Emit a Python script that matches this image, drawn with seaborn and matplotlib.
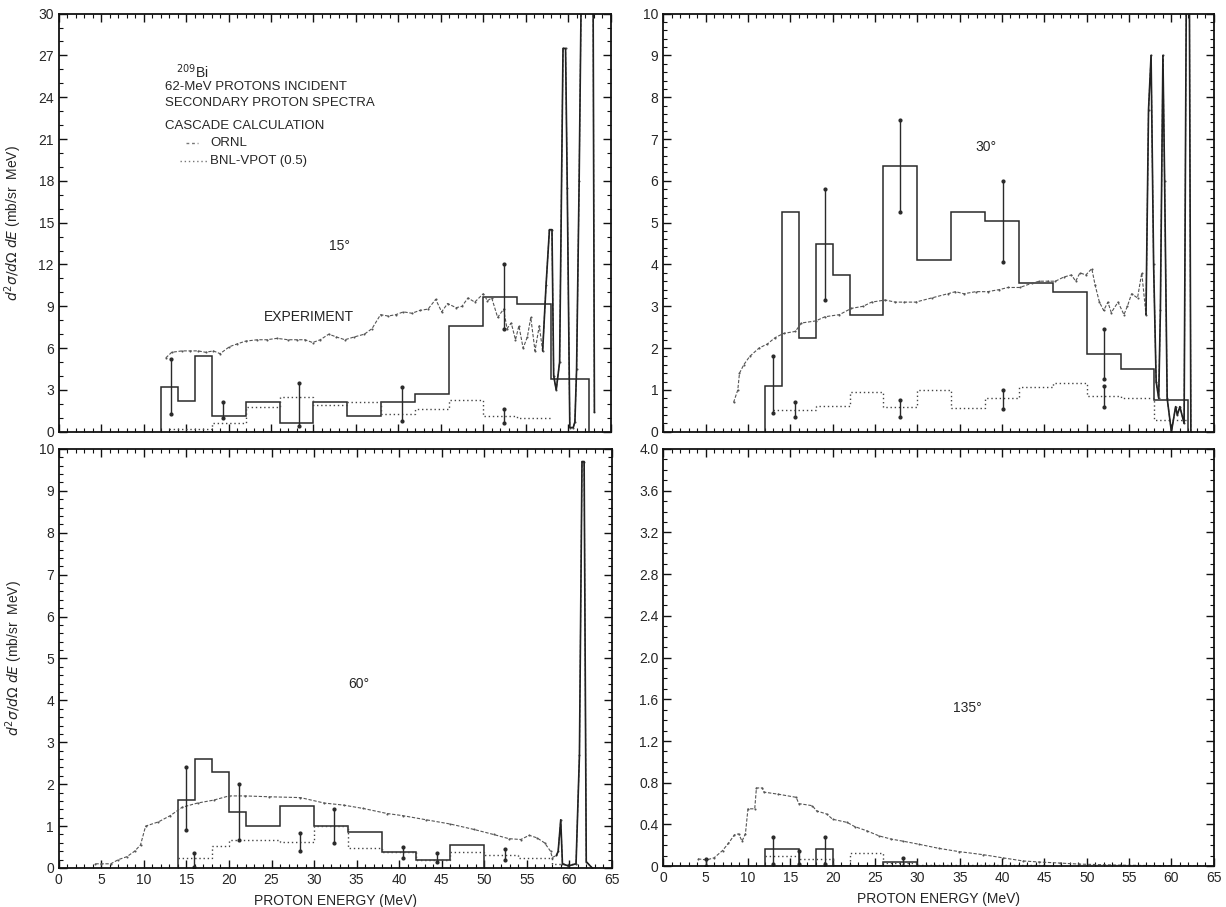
import matplotlib
matplotlib.use('Agg')
import matplotlib.pyplot as plt
import numpy as np
import pandas as pd
import seaborn as sns

from matplotlib.ticker import MultipleLocator, FuncFormatter

# ---- 15 degrees ----
exp15_e = [12.6, 13.3, 14.5, 15.5, 16.4, 17.3, 18.2, 19.0, 20.1, 21.0, 22.0, 23.4, 24.5, 25.7,
           27.0, 28.1, 29.0, 29.9, 30.8, 31.8, 32.7, 33.7, 34.8, 36.0, 36.9, 37.9, 38.8, 39.7,
           40.6, 41.6, 42.5, 43.5, 44.4, 45.1, 45.8, 46.8, 47.5, 48.2, 49.0, 50.0, 50.5, 51.0,
           51.7, 52.4, 52.8, 53.3, 53.8, 54.2, 54.7, 55.2, 55.6, 56.1, 56.6, 57.0, 57.4, 57.8,
           58.1, 58.3, 58.6, 59.0, 59.4, 59.7, 59.9, 60.2, 60.6, 60.8, 61.0, 61.3, 61.7, 62.9, 63.1]
exp15_y = [5.3, 5.7, 5.8, 5.8, 5.8, 5.7, 5.8, 5.6, 6.1, 6.3, 6.5, 6.6, 6.6, 6.7,
           6.6, 6.6, 6.6, 6.4, 6.6, 7.0, 6.8, 6.6, 6.8, 7.0, 7.4, 8.4, 8.3, 8.4,
           8.6, 8.5, 8.7, 8.8, 9.5, 8.6, 9.2, 8.9, 9.0, 9.6, 9.3, 9.9, 9.4, 9.6,
           8.2, 8.8, 7.4, 7.8, 6.6, 7.6, 6.0, 6.8, 8.2, 5.8, 7.6, 5.8, 10.5, 14.5,
           14.5, 4.0, 3.0, 5.0, 27.5, 27.5, 17.5, 0.3, 0.3, 0.7, 4.5, 18.0, 40.0, 40.0, 1.4]
ornl15_edges = [12, 14, 16, 18, 22, 26, 30, 34, 38, 42, 46, 50, 54, 58, 62.5]
ornl15_vals = [3.2, 2.2, 5.4, 1.1, 2.1, 0.6, 2.1, 1.1, 2.1, 2.7, 7.6, 9.7, 9.2, 3.8]
bnl15_edges = [13, 18, 22, 26, 30, 34, 38, 42, 46, 50, 54, 58]
bnl15_vals = [0.2, 0.6, 1.8, 2.5, 1.9, 2.1, 1.25, 1.65, 2.3, 1.1, 1.0]
err15_e = [13.2, 19.3, 28.3, 40.4, 52.5, 52.5]
err15_lo = [1.3, 1.0, 0.4, 0.75, 7.4, 0.6]
err15_hi = [5.2, 2.1, 3.5, 3.2, 12.0, 1.6]
elastic15 = 57.0

# ---- 30 degrees ----
exp30_e = [8.3, 8.8, 9.0, 9.5, 10.2, 11.3, 12.3, 13.2, 14.2, 15.6, 16.3, 18.0, 19.1, 20.8,
           22.2, 23.6, 24.6, 26.2, 27.4, 28.4, 29.8, 31.7, 33.6, 34.5, 35.5, 36.9, 38.3, 39.7,
           40.7, 42.1, 43.5, 44.4, 45.4, 46.3, 47.3, 48.2, 48.7, 49.2, 49.9, 50.6, 51.0, 51.5,
           52.0, 52.5, 52.9, 53.7, 54.4, 54.8, 55.3, 56.0, 56.5, 57.0, 57.3, 57.6, 57.9, 58.2,
           58.5, 58.7, 59.0, 59.2, 59.5, 60.0, 60.5, 60.7, 61.0, 61.5, 61.8, 62.1, 62.3]
exp30_y = [0.7, 1.0, 1.4, 1.6, 1.8, 2.0, 2.1, 2.25, 2.35, 2.4, 2.6, 2.65, 2.75, 2.8,
           2.95, 3.0, 3.1, 3.15, 3.1, 3.1, 3.1, 3.2, 3.3, 3.35, 3.3, 3.35, 3.35, 3.4,
           3.45, 3.45, 3.55, 3.6, 3.6, 3.6, 3.7, 3.75, 3.6, 3.8, 3.75, 3.9, 3.5, 3.1,
           2.9, 3.1, 2.85, 3.1, 2.8, 3.0, 3.3, 3.2, 3.8, 2.8, 7.7, 9.0, 4.0, 1.2,
           0.8, 2.9, 9.0, 6.0, 0.8, 0.0, 0.6, 0.4, 0.6, 0.2, 12.0, 12.0, 0.0]
ornl30_edges = [12, 14, 16, 18, 20, 22, 26, 30, 34, 38, 42, 46, 50, 54, 58, 62]
ornl30_vals = [1.1, 5.25, 2.25, 4.5, 3.75, 2.8, 6.35, 4.1, 5.25, 5.05, 3.55, 3.35, 1.85, 1.5, 0.75]
bnl30_edges = [13, 18, 22, 26, 30, 34, 38, 42, 46, 50, 54, 58, 62]
bnl30_vals = [0.52, 0.62, 0.95, 0.58, 1.0, 0.57, 0.8, 1.08, 1.16, 0.85, 0.8, 0.28]
err30_e = [13.0, 15.6, 19.1, 28.0, 28.0, 40.1, 40.1, 52.1, 52.1]
err30_lo = [0.45, 0.35, 3.15, 5.25, 0.35, 4.05, 0.55, 1.25, 0.6]
err30_hi = [1.8, 0.7, 5.8, 7.45, 0.75, 6.0, 1.0, 2.45, 1.1]
elastic30 = 57.0

# ---- 60 degrees ----
exp60_e = [4.3, 5.0, 6.1, 7.0, 8.0, 8.9, 9.6, 10.2, 11.7, 13.1, 14.5, 16.3, 18.2, 20.0,
           21.9, 24.7, 28.4, 31.2, 33.5, 35.8, 38.6, 40.4, 43.2, 46.0, 48.8, 51.1, 52.9, 54.3,
           55.3, 56.2, 57.1, 57.8, 58.0, 58.5, 58.7, 59.0, 59.2, 59.9, 60.8, 61.2, 61.5, 61.75,
           62.0, 62.7]
exp60_y = [0.1, 0.1, 0.1, 0.2, 0.27, 0.4, 0.55, 1.0, 1.1, 1.25, 1.45, 1.55, 1.62, 1.72,
           1.72, 1.7, 1.68, 1.55, 1.5, 1.42, 1.3, 1.25, 1.15, 1.05, 0.92, 0.8, 0.7, 0.68,
           0.78, 0.72, 0.6, 0.4, 0.25, 0.3, 0.4, 1.15, 0.1, 0.05, 0.1, 2.7, 9.7, 9.7,
           0.15, 0.0]
ornl60_edges = [14, 16, 18, 20, 22, 26, 30, 34, 38, 42, 46, 50]
ornl60_vals = [1.62, 2.6, 2.28, 1.33, 1.0, 1.47, 1.0, 0.87, 0.37, 0.2, 0.55]
bnl60_edges = [14, 18, 20, 26, 30, 34, 38, 42, 46, 50, 54, 58, 61]
bnl60_vals = [0.25, 0.52, 0.67, 0.61, 1.0, 0.48, 0.37, 0.2, 0.37, 0.3, 0.25, 0.1]
err60_e = [15.0, 15.9, 21.2, 28.3, 32.3, 40.4, 44.4, 52.4]
err60_lo = [0.9, 0.03, 0.67, 0.41, 0.6, 0.24, 0.15, 0.2]
err60_hi = [2.4, 0.36, 2.0, 0.83, 1.41, 0.5, 0.35, 0.45]
elastic60 = 58.5

# ---- 135 degrees ----
exp135_e = [4.1, 5.1, 6.0, 7.0, 7.7, 8.4, 8.9, 9.3, 9.7, 10.0, 10.8, 11.0, 11.7, 11.9,
            13.6, 15.7, 16.0, 17.6, 18.1, 19.3, 20.0, 21.7, 22.6, 24.0, 25.5, 26.9, 28.3, 30.2,
            32.6, 34.9, 37.8, 40.1, 42.5, 44.4, 46.8, 49.1, 53.9, 58.6, 64.8]
exp135_y = [0.07, 0.06, 0.08, 0.15, 0.22, 0.3, 0.31, 0.24, 0.31, 0.55, 0.55, 0.75, 0.75, 0.71,
            0.69, 0.66, 0.6, 0.58, 0.53, 0.5, 0.45, 0.42, 0.38, 0.34, 0.29, 0.26, 0.24, 0.21,
            0.17, 0.14, 0.11, 0.08, 0.05, 0.04, 0.03, 0.02, 0.01, 0.005, 0.0]
ornl135_edges = [12, 16, 18, 20, 26, 30]
ornl135_vals = [0.16, 0.0, 0.16, 0.0, 0.04]
bnl135_edges = [12, 16, 20, 22, 26, 30, 45]
bnl135_vals = [0.1, 0.07, 0.0, 0.13, 0.03, 0.01]
err135_e = [5.1, 13.0, 16.0, 19.1, 28.3]
err135_lo = [0.0, 0.02, 0.02, 0.02, 0.0]
err135_hi = [0.07, 0.28, 0.15, 0.28, 0.08]
elastic135 = 70.0

YLABEL = r'$d^2\sigma/d\Omega\;dE$ (mb/sr  MeV)'
XLABEL = 'PROTON ENERGY (MeV)'

sns.set_style('ticks')
plt.rcParams['font.family'] = ['Liberation Sans', 'DejaVu Sans']
plt.rcParams['mathtext.fontset'] = 'dejavusans'

figure = plt.figure(figsize=(12.26, 9.07), dpi=100)

panels = [
    dict(pos=[0.048, 0.524, 0.450, 0.461], ymax=30, major=3, minor=1, fmt='{:.0f}',
         exp=(exp15_e, exp15_y), ornl=(ornl15_edges, ornl15_vals), bnl=(bnl15_edges, bnl15_vals),
         err=(err15_e, err15_lo, err15_hi), elastic=elastic15,
         label='15°', lab_xy=(31.8, 13.3), bottom=False, left=True),
    dict(pos=[0.541, 0.524, 0.449, 0.461], ymax=10, major=1, minor=0.2, fmt='{:.0f}',
         exp=(exp30_e, exp30_y), ornl=(ornl30_edges, ornl30_vals), bnl=(bnl30_edges, bnl30_vals),
         err=(err30_e, err30_lo, err30_hi), elastic=elastic30,
         label='30°', lab_xy=(36.9, 6.8), bottom=False, left=False),
    dict(pos=[0.048, 0.043, 0.451, 0.462], ymax=10, major=1, minor=0.2, fmt='{:.0f}',
         exp=(exp60_e, exp60_y), ornl=(ornl60_edges, ornl60_vals), bnl=(bnl60_edges, bnl60_vals),
         err=(err60_e, err60_lo, err60_hi), elastic=elastic60,
         label='60°', lab_xy=(34.0, 4.4), bottom=True, left=True),
    dict(pos=[0.541, 0.045, 0.449, 0.460], ymax=4, major=0.4, minor=0.1, fmt='{:.1f}',
         exp=(exp135_e, exp135_y), ornl=(ornl135_edges, ornl135_vals), bnl=(bnl135_edges, bnl135_vals),
         err=(err135_e, err135_lo, err135_hi), elastic=elastic135,
         label='135°', lab_xy=(34.2, 1.52), bottom=True, left=False),
]

for p in panels:
    ax = figure.add_axes(p['pos'])

    # Экспериментальный спектр.
    exp_df = pd.DataFrame({'e': p['exp'][0], 'y': p['exp'][1]})
    sns.lineplot(data=exp_df, x='e', y='y', ax=ax, estimator=None, sort=False,
                 color='#555555', linewidth=0.8, linestyle=(0, (3, 1.5)),
                 marker='.', markersize=3, markeredgewidth=0)
    # Упругий пик рисуется сплошной линией.
    peak_df = exp_df[exp_df['e'] >= p['elastic']]
    if len(peak_df):
        sns.lineplot(data=peak_df, x='e', y='y', ax=ax, estimator=None, sort=False,
                     color='#222222', linewidth=1.2)

    # Гистограммы каскадного расчета.
    ax.stairs(p['ornl'][1], p['ornl'][0], baseline=0, color='#2a2a2a', linewidth=1.1)
    ax.stairs(p['bnl'][1], p['bnl'][0], baseline=None, color='#444444', linewidth=1.0,
              linestyle=(0, (1, 2)))

    # Ошибки.
    ex, elo, ehi = p['err']
    ax.vlines(ex, elo, ehi, color='#2a2a2a', linewidth=1.0)
    ax.plot(ex + ex, elo + ehi, linestyle='none', marker='.', markersize=4, color='#2a2a2a')

    ax.set_xlim(0, 65)
    ax.set_ylim(0, p['ymax'])
    ax.xaxis.set_major_locator(MultipleLocator(5))
    ax.xaxis.set_minor_locator(MultipleLocator(1))
    ax.yaxis.set_major_locator(MultipleLocator(p['major']))
    ax.yaxis.set_minor_locator(MultipleLocator(p['minor']))
    fmt = p['fmt']
    ax.yaxis.set_major_formatter(FuncFormatter(lambda v, _, f=fmt: '0' if abs(v) < 1e-9 else f.format(v)))
    ax.tick_params(which='both', direction='in', top=True, right=True, labelsize=10,
                   labelbottom=p['bottom'], color='#111111')
    ax.tick_params(which='major', length=6, width=1.0)
    ax.tick_params(which='minor', length=3, width=0.8)
    for s in ax.spines.values():
        s.set_linewidth(1.3)
        s.set_color('#111111')

    ax.set_xlabel(XLABEL if p['bottom'] else '', fontsize=10, labelpad=5)
    ax.set_ylabel(YLABEL if p['left'] else '', fontsize=10, labelpad=10)
    ax.text(*p['lab_xy'], p['label'], fontsize=10, ha='left', va='center')

# Подписи первого графика.
ax0 = figure.axes[0]
ax0.text(13.8, 25.8, r'$^{209}$Bi', fontsize=10, ha='left', va='center')
ax0.text(12.5, 24.7, '62-MeV PROTONS INCIDENT', fontsize=9.5, ha='left', va='center')
ax0.text(12.5, 23.6, 'SECONDARY PROTON SPECTRA', fontsize=9.5, ha='left', va='center')
ax0.text(12.5, 21.95, 'CASCADE CALCULATION', fontsize=9.5, ha='left', va='center')
ax0.plot([15.0, 16.4], [20.7, 20.7], color='#777777', linewidth=1.0, linestyle=(0, (2, 2)))
ax0.text(17.8, 20.7, 'ORNL', fontsize=9.5, ha='left', va='center')
ax0.plot([14.3, 17.5], [19.4, 19.4], color='#777777', linewidth=1.0, linestyle=(0, (1, 2)))
ax0.text(17.8, 19.4, 'BNL-VPOT (0.5)', fontsize=9.5, ha='left', va='center')
ax0.text(24.2, 8.2, 'EXPERIMENT', fontsize=10, ha='left', va='center')

figure.savefig('out.png', dpi=100)
